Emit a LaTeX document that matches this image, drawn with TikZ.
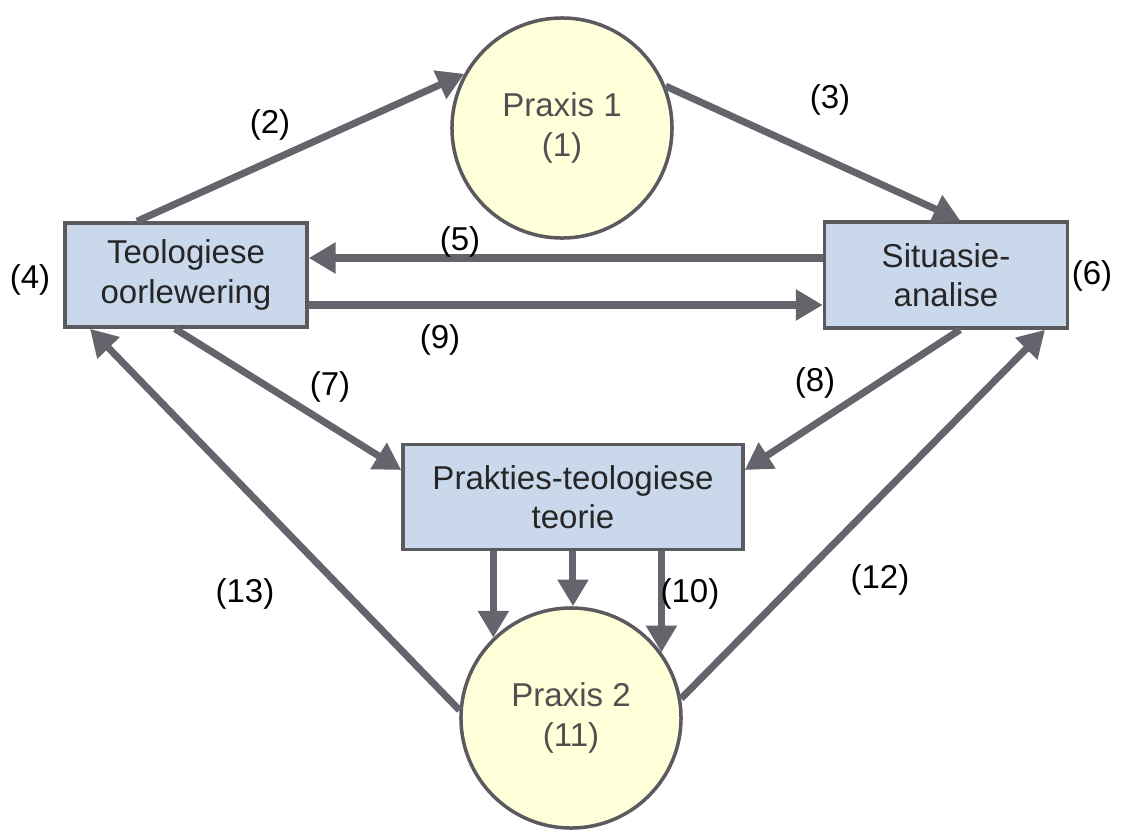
\documentclass[tikz,border=0pt]{standalone}
\usepackage{fontspec}
\setmainfont{Liberation Sans}
\usetikzlibrary{arrows.meta,calc}
\definecolor{arr}{RGB}{100,100,108}
\definecolor{circfill}{RGB}{255,255,218}
\definecolor{boxfill}{RGB}{202,216,236}
\definecolor{edgec}{RGB}{90,90,95}
\definecolor{ptext}{RGB}{80,80,80}
\begin{document}
\begin{tikzpicture}[x=0.025cm,y=-0.025cm,
 every node/.style={font=\fontsize{23.5}{28}\selectfont, inner sep=0pt, align=center},
 circ/.style={circle, draw=edgec, line width=2.5pt, fill=circfill, minimum size=5.5cm, text=ptext},
 bx/.style={rectangle, draw=edgec, line width=2.5pt, fill=boxfill, text=black!85},
 conn/.style={draw=arr, line width=5pt, -{Triangle[length=19pt,width=21pt]}},
 lbl/.style={text=black}
]
\useasboundingbox (0,0) rectangle (1121,831);
\node[circ] (p1) at (562,128) {Praxis 1\\(1)};
\node[circ] (p2) at (571,718) {Praxis 2\\(11)};
\node[bx, minimum width=6.05cm, minimum height=2.6cm] (t) at (186,275) {Teologiese\\oorlewering};
\node[bx, minimum width=6.075cm, minimum height=2.65cm] (s) at (946,275) {Situasie-\\analise};
\node[bx, minimum width=8.5cm, minimum height=2.625cm] (p) at (573,497) {Prakties-teologiese\\teorie};

\draw[conn] ($(t.north)+(-49,0)$) -- (p1.151);
\draw[conn] (p1.22) -- ($(s.north)+(14,0)$);
\draw[conn] ($(s.west)+(0,-17)$) -- ($(t.east)+(0,-17)$);
\draw[conn] ($(t.east)+(0,30)$) -- ($(s.west)+(0,30)$);
\draw[conn] ($(t.south)+(-11,0)$) -- ($(p.west)+(0,-27)$);
\draw[conn] ($(s.south)+(14,0)$) -- ($(p.east)+(0,-27)$);
\draw[conn] (p2.134 |- p.south) -- (p2.134);
\draw[conn] (p2.89 |- p.south) -- (p2.89);
\draw[conn] (p2.36 |- p.south) -- (p2.36);
\draw[conn] (p2.176) -- ($(t.south)+(-96,0)$);
\draw[conn] (p2.10) -- ($(s.south)+(99,0)$);

\node[lbl] (l2) at (270,125) {(2)};
\node[lbl] (l3) at (830,100) {(3)};
\node[lbl] (l4) at (30,280) {(4)};
\node[lbl] (l5) at (460,242) {(5)};
\node[lbl] (l6) at (1092,276) {(6)};
\node[lbl] (l9) at (440,340) {(9)};
\node[lbl] (l7) at (330,387) {(7)};
\node[lbl] (l8) at (815,383) {(8)};
\node[lbl] (l13) at (245,594) {(13)};
\node[lbl] (l10) at (690,594) {(10)};
\node[lbl] (l12) at (880,580) {(12)};
\end{tikzpicture}
\end{document}
